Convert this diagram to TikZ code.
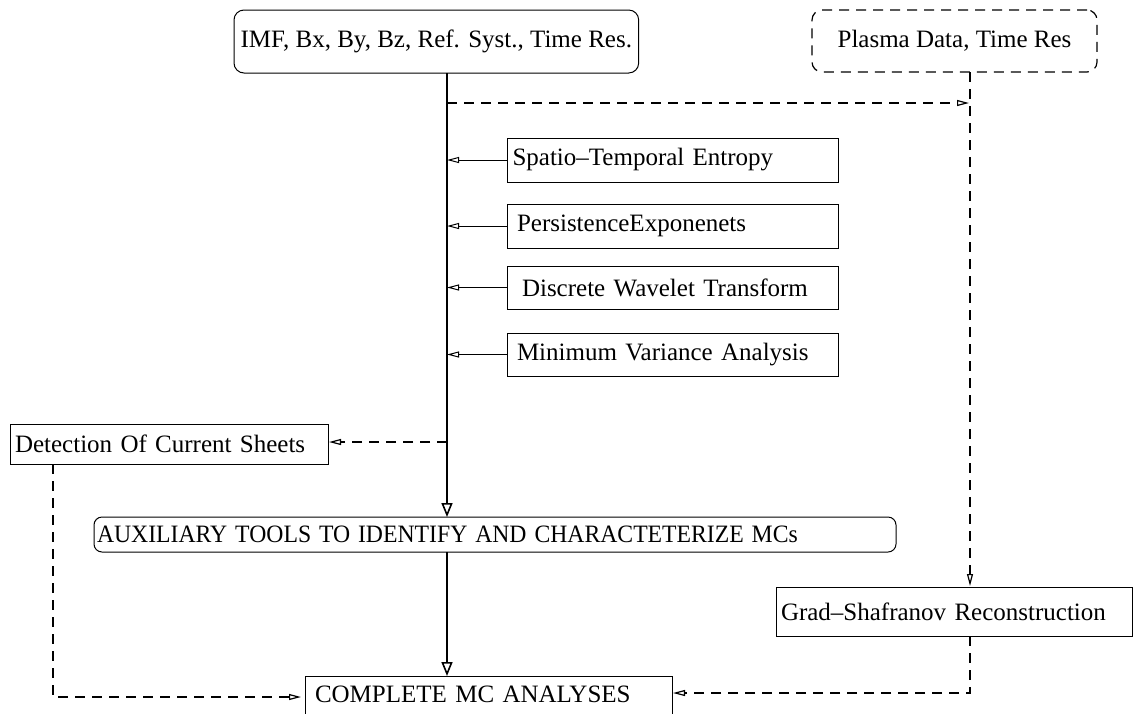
\documentclass[tikz,border=0pt]{standalone}
\usepackage{fontspec}
\usepackage{graphicx}
\setmainfont{Liberation Serif}
\usetikzlibrary{arrows.meta}
\begin{document}
\begin{tikzpicture}[x=0.5pt,y=-0.5pt,
  every node/.style={font=\fontsize{12.5}{15}\selectfont, outer sep=0pt},
  box/.style={draw, rectangle, line width=0.5pt, anchor=north west, align=left, inner ysep=0pt},
  rbox/.style={box, rounded corners=5pt},
  spine/.style={line width=0.8pt, -{Triangle[open, length=7pt, width=5.5pt]}},
  feed/.style={line width=0.5pt, -{Triangle[open, length=6pt, width=3pt]}},
  dline/.style={line width=0.6pt, dash pattern=on 5pt off 3.5pt, -{Triangle[open, length=6pt, width=3pt]}, shorten >=0.5pt}
]
\useasboundingbox (0,0) rectangle (1134,713);
\clip (0,0) rectangle (1134,713);

% spine and helper coordinates
\coordinate (sp) at (447,0);
\coordinate (pv) at (970,0);
\coordinate (d1) at (447,103);
\coordinate (d2) at (447,442);
\coordinate (dl) at (53,697);
\coordinate (dr) at (970,693);

% boxes
\node[rbox, minimum width=125pt, minimum height=31.5pt, align=center] (imf) at (234,10) {IMF, Bx, By, Bz, Ref. Syst., Time Res.};
\node[rbox, dash pattern=on 5pt off 3.5pt, line width=0.6pt, minimum width=142.5pt, minimum height=31pt, align=center] (plasma) at (812,10) {Plasma Data, Time Res};

\node[box, minimum width=165.5pt, minimum height=22pt, text width=160pt, inner xsep=2.5pt] (spatio) at (507,138) {Spatio–Temporal Entropy};
\node[box, minimum width=165.5pt, minimum height=22pt, text width=155.5pt, inner xsep=5pt] (persist) at (507,204) {PersistenceExponenets};
\node[box, minimum width=165.5pt, minimum height=21.5pt, text width=150.5pt, inner xsep=7.5pt] (dwt) at (507,266) {Discrete Wavelet Transform};
\node[box, minimum width=165.5pt, minimum height=21.5pt, text width=155.5pt, inner xsep=5pt] (mva) at (507,333) {Minimum Variance Analysis};

\node[box, minimum width=159pt, minimum height=20pt, text width=154pt, inner xsep=2.5pt] (detect) at (10,424) {Detection Of Current Sheets};

\node[rbox, rounded corners=4pt, minimum width=400.5pt, minimum height=17.5pt, text width=398pt, inner xsep=1.5pt] (aux) at (94,517) {\scalebox{0.948}[1]{AUXILIARY TOOLS TO IDENTIFY AND CHARACTETERIZE MCs}};

\node[box, minimum width=178pt, minimum height=24.5pt, text width=173pt, inner xsep=2.5pt] (grad) at (776,587) {Grad–Shafranov Reconstruction};

\node[box, minimum width=178.5pt, text width=173.5pt, inner xsep=5pt, inner ysep=0pt, text height=13pt, text depth=12pt] (complete) at (305,676) {COMPLETE MC ANALYSES};

% solid spine
\draw[spine] (imf.south -| sp) -- (aux.north -| sp);
\draw[spine] (aux.south -| sp) -- (complete.north -| sp);

% feeds into spine
\draw[feed] (spatio.west) -- (spatio.west -| sp);
\draw[feed] (persist.west) -- (persist.west -| sp);
\draw[feed] (dwt.west) -- (dwt.west -| sp);
\draw[feed] (mva.west) -- (mva.west -| sp);

% dashed connectors
\draw[dline] (d1) -- (d1 -| pv);
\draw[dline] (plasma.south -| pv) -- (grad.north -| pv);
\draw[dline] (d2) -- (d2 -| detect.east);
\draw[dline, shorten >=2pt] (detect.south -| dl) -- (dl) -- (dl -| complete.west);
\draw[dline] (grad.south -| dr) -- (dr) -- (dr -| complete.east);
\end{tikzpicture}
\end{document}
